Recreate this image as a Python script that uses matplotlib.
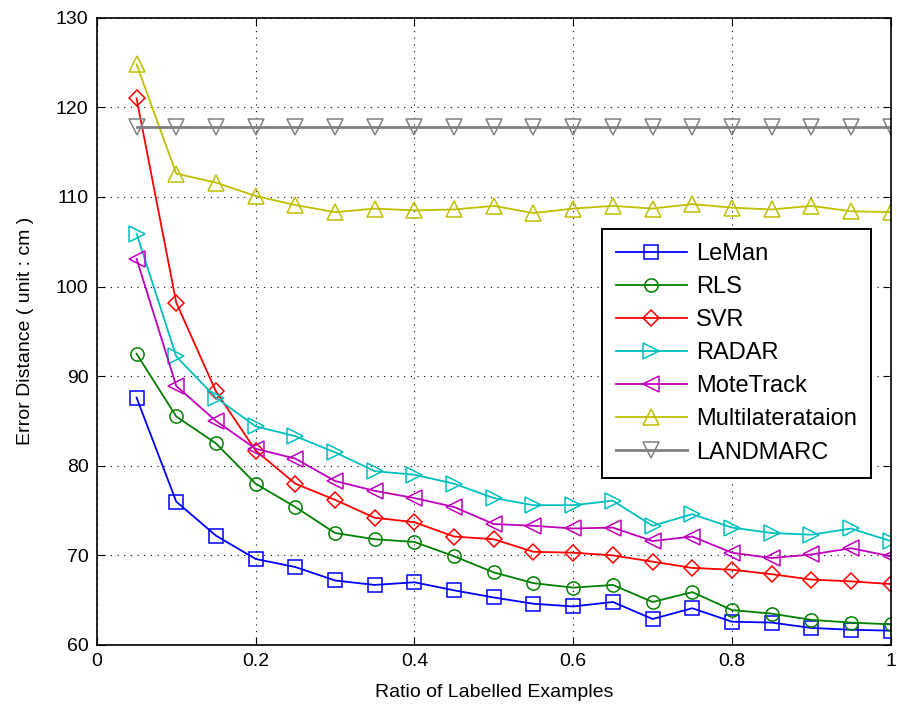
import numpy as np
import matplotlib
matplotlib.use('Agg')
import matplotlib.pyplot as plt

plt.rcParams['font.family'] = ['Liberation Sans', 'DejaVu Sans']

#Ratio of labelled examples
ratio = [0.05, 0.1, 0.15, 0.2, 0.25, 0.3, 0.35, 0.4, 0.45, 0.5,
         0.55, 0.6, 0.65, 0.7, 0.75, 0.8, 0.85, 0.9, 0.95, 1.0]

#Error distance (cm)
leman = [87.6, 76.0, 72.2, 69.6, 68.7, 67.2, 66.7, 67.0, 66.1, 65.3,
         64.6, 64.3, 64.8, 62.9, 64.1, 62.6, 62.5, 61.9, 61.7, 61.6]
rls = [92.5, 85.5, 82.5, 78.0, 75.4, 72.5, 71.8, 71.5, 69.9, 68.1,
       66.9, 66.4, 66.7, 64.8, 65.9, 63.9, 63.5, 62.8, 62.5, 62.3]
svr = [121.0, 98.2, 88.3, 81.7, 78.0, 76.2, 74.2, 73.7, 72.1, 71.8,
       70.4, 70.3, 70.0, 69.3, 68.6, 68.4, 67.9, 67.3, 67.1, 66.8]
radar = [105.9, 92.2, 87.6, 84.4, 83.3, 81.5, 79.4, 79.0, 78.0, 76.4,
         75.6, 75.6, 76.1, 73.3, 74.6, 73.1, 72.5, 72.3, 73.0, 71.6]
motetrack = [103.1, 88.9, 85.0, 81.9, 80.8, 78.3, 77.2, 76.4, 75.4, 73.5,
             73.3, 73.0, 73.1, 71.6, 72.1, 70.3, 69.7, 70.1, 70.8, 69.9]
multilat = [124.8, 112.6, 111.6, 110.1, 109.1, 108.3, 108.7, 108.5, 108.6, 109.0,
            108.2, 108.7, 109.0, 108.7, 109.2, 108.8, 108.6, 109.0, 108.4, 108.3]
landmarc = [117.8]*20

series = [('LeMan', leman, (0, 0, 1), 's'),
          ('RLS', rls, (0, 0.5, 0), 'o'),
          ('SVR', svr, (1, 0, 0), 'D'),
          ('RADAR', radar, (0, 0.75, 0.75), '>'),
          ('MoteTrack', motetrack, (0.75, 0, 0.75), '<'),
          ('Multilaterataion', multilat, (0.75, 0.75, 0), '^'),
          ('LANDMARC', landmarc, (0.5, 0.5, 0.5), 'v')]

fig = plt.figure(figsize=(8.97, 7.08), dpi=100)
ax = fig.add_axes([0.108, 0.089, 0.885, 0.886])

for name, vals, col, mk in series:
    ms = 11
    if mk == 'D':
        ms = 8.5
    if mk == 's' or mk == 'o':
        ms = 9.5
    ax.plot(ratio, vals, color=col, marker=mk, markersize=ms,
            markerfacecolor='none', markeredgecolor=col,
            markeredgewidth=1.1, linewidth=1.3 if name != 'LANDMARC' else 2.0,
            label=name)

ax.set_xlim(0, 1)
ax.set_ylim(60, 130)
ax.set_xticks([0, 0.2, 0.4, 0.6, 0.8, 1])
ax.set_xticklabels(['0', '0.2', '0.4', '0.6', '0.8', '1'])
ax.set_yticks(np.arange(60, 131, 10))
ax.grid(True, linestyle=(0, (1, 5)), color='k', linewidth=0.8)
ax.tick_params(direction='in', top=True, right=True, labelsize=14, length=6, pad=6)
for sp in ax.spines.values():
    sp.set_linewidth(1.2)

ax.set_xlabel('Ratio of Labelled Examples', fontsize=14, labelpad=10)
ax.set_ylabel('Error Distance ( unit : cm )', fontsize=14, labelpad=16)

leg = ax.legend(loc='upper left', bbox_to_anchor=(0.636, 0.6635), fontsize=17,
                fancybox=False, framealpha=1, edgecolor='k',
                handlelength=3.0, labelspacing=0.47, borderpad=0.6,
                handletextpad=0.38, borderaxespad=0)
leg.get_frame().set_linewidth(1.4)

fig.savefig('out.png', dpi=100)
